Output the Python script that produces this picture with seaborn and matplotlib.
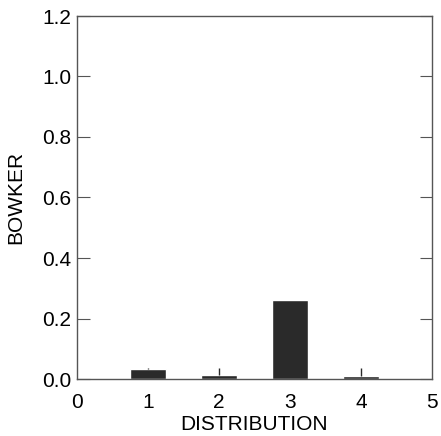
import matplotlib
matplotlib.use('Agg')
import matplotlib.pyplot as plt
import pandas as pd
import seaborn as sns
import numpy as np

sns.set_style('ticks')
plt.rcParams['font.family'] = ['Liberation Sans', 'DejaVu Sans']
plt.rcParams['ytick.direction'] = 'in'
plt.rcParams['text.color'] = 'black'
plt.rcParams['axes.labelcolor'] = 'black'

distribution = [1, 2, 3, 4]
bowker = [0.033, 0.013, 0.261, 0.010]
err_up = [0.003, 0.023, 0.0, 0.026]

df = pd.DataFrame({'DISTRIBUTION': distribution, 'BOWKER': bowker})

fig = plt.figure(figsize=(4.41, 4.36), dpi=100)
ax = fig.add_axes([77 / 441, 57 / 436, 355 / 441, 363 / 436])
sns.barplot(data=df, x='DISTRIBUTION', y='BOWKER', native_scale=True,
            width=0.5, color='#2a2a2a', saturation=1, errorbar=None, ax=ax)
ax.errorbar(distribution, bowker, yerr=[np.zeros(4), err_up], fmt='none',
            ecolor='#2a2a2a', elinewidth=1, capsize=0)

ax.set_xlim(0, 5)
ax.set_ylim(0, 1.2)
ax.set_xticks([0, 1, 2, 3, 4, 5])
ax.set_xticklabels(['0', '1', '2', '3', '4', '5'])
ax.set_yticks([0, 0.2, 0.4, 0.6, 0.8, 1.0, 1.2])
ax.set_yticklabels(['0.0', '0.2', '0.4', '0.6', '0.8', '1.0', '1.2'])
ax.tick_params(axis='y', direction='in', length=9, left=True, right=True,
               labelsize=15, color='#555555', labelcolor='black', pad=4)
ax.tick_params(axis='x', length=0, labelsize=15, labelcolor='black', pad=10)
for s in ax.spines.values():
    s.set_visible(True)
    s.set_color('#555555')
    s.set_linewidth(1)
ax.set_xlabel('DISTRIBUTION', fontsize=15, labelpad=2, color='black')
ax.set_ylabel('BOWKER', fontsize=15, labelpad=12, color='black')

fig.savefig('out.png', dpi=100)
